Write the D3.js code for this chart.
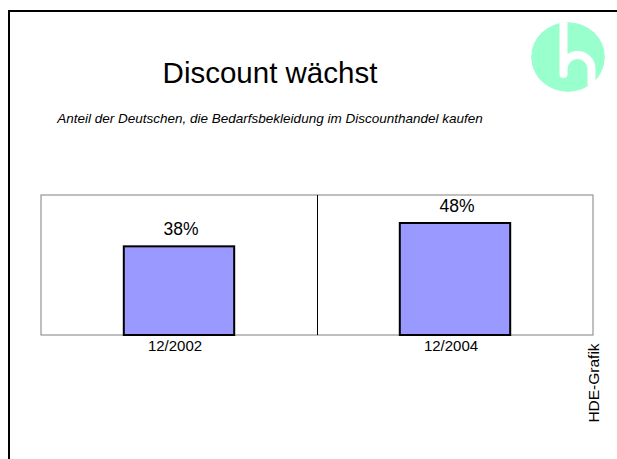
<!DOCTYPE html>
<html>
<head>
  <meta charset="utf-8">
  <title>Discount wächst</title>
  <script src="https://d3js.org/d3.v7.min.js"></script>
  <style>
    body { margin: 0; background: #fff; }
    text { font-family: "Liberation Sans", Arial, sans-serif; }
  </style>
</head>
<body>
  <div id="chart"></div>
  <script>
    const categories = ["12/2002", "12/2004"];
    const values = [38, 48];
    const valueLabels = ["38%", "48%"];

    const width = 617, height = 459;
    const svg = d3.select("#chart").append("svg")
      .attr("width", width).attr("height", height);

    // slide frame (runs off the right and bottom)
    svg.append("rect")
      .attr("x", 9).attr("y", 11)
      .attr("width", 700).attr("height", 500)
      .attr("fill", "none").attr("stroke", "#000").attr("stroke-width", 2);

    svg.append("text")
      .attr("x", 270).attr("y", 83)
      .attr("text-anchor", "middle")
      .attr("font-size", "29.5px")
      .text("Discount wächst");

    svg.append("text")
      .attr("x", 270).attr("y", 123)
      .attr("text-anchor", "middle")
      .attr("font-size", "13.5px")
      .attr("font-style", "italic")
      .text("Anteil der Deutschen, die Bedarfsbekleidung im Discounthandel kaufen");

    // logo
    const clip = svg.append("clipPath").attr("id", "logoClip");
    clip.append("ellipse").attr("cx", 568).attr("cy", 57).attr("rx", 37).attr("ry", 35);
    const logo = svg.append("g").attr("clip-path", "url(#logoClip)");
    logo.append("ellipse").attr("cx", 568).attr("cy", 57).attr("rx", 37).attr("ry", 35)
      .attr("fill", "#99ffcc");
    logo.append("path")
      .attr("d", "M563.5,10 L563.5,74 M563.5,69 A14,14 0 0 1 591.5,69 L591.5,110")
      .attr("fill", "none").attr("stroke", "#fff").attr("stroke-width", 8)
      .attr("stroke-linecap", "round");

    // chart
    const x = d3.scaleBand().domain(categories).range([41, 593]).padding(0);
    const y = d3.scaleLinear().domain([0, 60]).range([335, 195]);

    const g = svg.append("g");
    g.append("rect")
      .attr("x", x.range()[0]).attr("y", y(60))
      .attr("width", x.range()[1] - x.range()[0]).attr("height", y(0) - y(60))
      .attr("fill", "none").attr("stroke", "#808080").attr("stroke-width", 1);

    g.selectAll(".divider").data(categories.slice(1)).join("line")
      .attr("x1", d => x(d) + 0.5).attr("x2", d => x(d) + 0.5)
      .attr("y1", y(60)).attr("y2", y(0))
      .attr("stroke", "#000").attr("stroke-width", 1);

    const barW = x.bandwidth() * 0.4;
    g.selectAll(".bar").data(values).join("rect")
      .attr("x", (d, i) => x(categories[i]) + (x.bandwidth() - barW) / 2)
      .attr("y", d => y(d))
      .attr("width", barW)
      .attr("height", d => y(0) - y(d))
      .attr("fill", "#9999ff").attr("stroke", "#000").attr("stroke-width", 2);

    g.selectAll(".vlab").data(values).join("text")
      .attr("x", (d, i) => x(categories[i]) + x.bandwidth() / 2 + 2)
      .attr("y", d => y(d) - 11)
      .attr("text-anchor", "middle")
      .attr("font-size", "17.5px")
      .text((d, i) => valueLabels[i]);

    g.selectAll(".clab").data(categories).join("text")
      .attr("x", d => x(d) + x.bandwidth() / 2 - 4)
      .attr("y", 351)
      .attr("text-anchor", "middle")
      .attr("font-size", "15px")
      .text(d => d);

    svg.append("text")
      .attr("transform", "translate(599,383) rotate(-90)")
      .attr("text-anchor", "middle")
      .attr("font-size", "15.5px")
      .text("HDE-Grafik");
  </script>
</body>
</html>
